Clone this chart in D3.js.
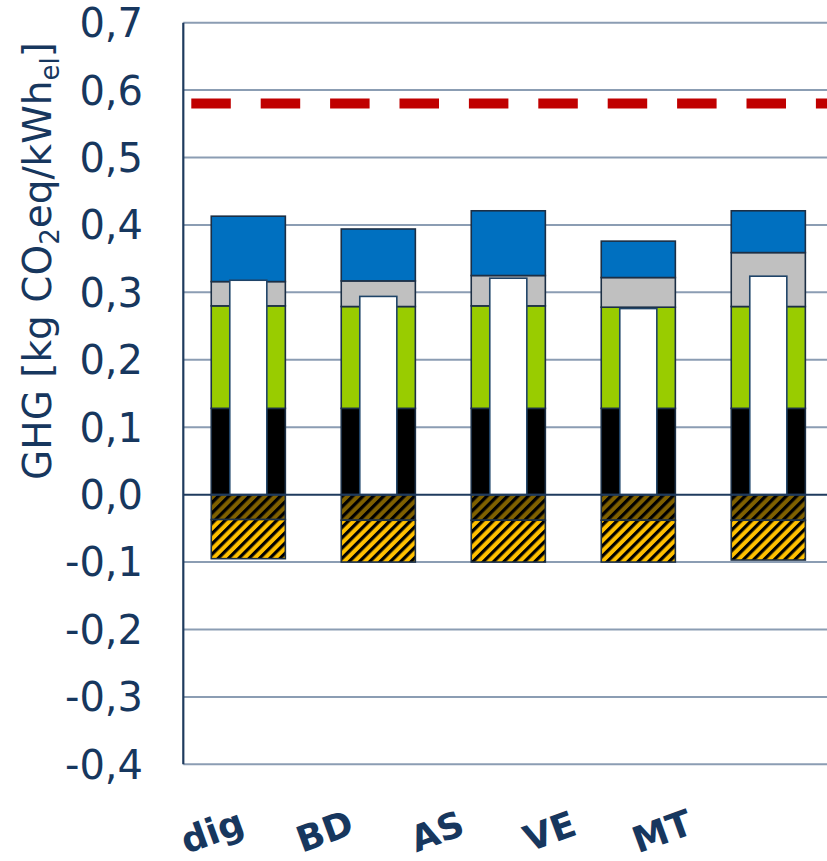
<!DOCTYPE html>
<html>
<head>
<meta charset="utf-8">
<script src="https://cdn.jsdelivr.net/npm/d3@7"></script>
<style>
  html, body { margin: 0; padding: 0; background: #ffffff; }
  svg { display: block; }
  text { font-family: "DejaVu Sans", Verdana, sans-serif; fill: #17375e; }
</style>
</head>
<body>
<svg id="chart" width="827" height="861"></svg>
<script>
// Biogas pathways (GHG balance per kWh of electricity)
const categories = ["dig", "BD", "AS", "VE", "MT"];

// Emission contributions, stacked upward from zero
const emBlack = [0.128, 0.128, 0.128, 0.128, 0.128];
const emGreen = [0.152, 0.151, 0.152, 0.150, 0.151];
const emGray  = [0.036, 0.038, 0.045, 0.044, 0.080];
const emBlue  = [0.097, 0.077, 0.096, 0.054, 0.062];

// Credits, stacked downward from zero
const creditDark   = [-0.037, -0.038, -0.038, -0.038, -0.038];
const creditYellow = [-0.058, -0.062, -0.062, -0.062, -0.059];

// Reference level for grid electricity
const referenceLine = 0.58;

const yTicks = [0.7, 0.6, 0.5, 0.4, 0.3, 0.2, 0.1, 0.0, -0.1, -0.2, -0.3, -0.4];

const W = 827, H = 861;
const margin = { left: 183.3, top: 22.7, bottom: 764.3 };
const plotRight = 833.3;

const svg = d3.select("#chart");

const x = d3.scaleBand()
  .domain(categories)
  .range([margin.left, plotRight])
  .paddingInner(0.43)
  .paddingOuter(0.215);

const y = d3.scaleLinear()
  .domain([-0.4, 0.7])
  .range([margin.bottom, margin.top]);

// category labels sit on their own evenly spaced positions
const xLabel = d3.scalePoint()
  .domain(categories)
  .range([212, 662]);

// hatch patterns for the credit segments
const defs = svg.append("defs");
function hatch(id, bg) {
  const p = defs.append("pattern")
    .attr("id", id)
    .attr("patternUnits", "userSpaceOnUse")
    .attr("width", 7.3)
    .attr("height", 7.3)
    .attr("patternTransform", "rotate(45)");
  p.append("rect").attr("width", 7.3).attr("height", 7.3).attr("fill", bg);
  p.append("rect").attr("width", 3.2).attr("height", 7.3).attr("fill", "#000000");
}
hatch("hatchDark", "#7f6000");
hatch("hatchYellow", "#ffc000");

// horizontal gridlines
svg.append("g")
  .selectAll("line")
  .data(yTicks.filter(d => d !== 0))
  .join("line")
  .attr("x1", margin.left)
  .attr("x2", W)
  .attr("y1", d => y(d))
  .attr("y2", d => y(d))
  .attr("stroke", "#8b9db3")
  .attr("stroke-width", 2);

// y tick labels
const fmt = d => d3.format(".1f")(d).replace(".", ",").replace("−", "-");
svg.append("g")
  .selectAll("text")
  .data(yTicks)
  .join("text")
  .attr("x", 143)
  .attr("y", d => y(d))
  .attr("dy", "0.36em")
  .attr("text-anchor", "end")
  .attr("font-size", 40)
  .text(d => fmt(d));

// stacked series
const layers = [
  { vals: emBlack, fill: "#000000" },
  { vals: emGreen, fill: "#99cc00" },
  { vals: emGray,  fill: "#c0c0c0" },
  { vals: emBlue,  fill: "#0070c0" }
];
const negLayers = [
  { vals: creditDark,   fill: "url(#hatchDark)" },
  { vals: creditYellow, fill: "url(#hatchYellow)" }
];

const segs = [];
categories.forEach((c, i) => {
  let base = 0;
  layers.forEach(l => {
    segs.push({ c, y0: base, y1: base + l.vals[i], fill: l.fill });
    base += l.vals[i];
  });
  let nb = 0;
  negLayers.forEach(l => {
    segs.push({ c, y0: nb, y1: nb + l.vals[i], fill: l.fill });
    nb += l.vals[i];
  });
});

svg.append("g")
  .selectAll("rect")
  .data(segs)
  .join("rect")
  .attr("x", d => x(d.c))
  .attr("width", x.bandwidth())
  .attr("y", d => y(Math.max(d.y0, d.y1)))
  .attr("height", d => Math.abs(y(d.y0) - y(d.y1)))
  .attr("fill", d => d.fill)
  .attr("stroke", "#1c2f45")
  .attr("stroke-width", 1.6);

// net result bars (emissions minus credits)
const net = categories.map((c, i) =>
  emBlack[i] + emGreen[i] + emGray[i] + emBlue[i] + creditDark[i] + creditYellow[i]);

svg.append("g")
  .selectAll("rect")
  .data(categories)
  .join("rect")
  .attr("x", c => x(c) + x.bandwidth() * 0.25)
  .attr("width", x.bandwidth() * 0.5)
  .attr("y", (c, i) => y(net[i]))
  .attr("height", (c, i) => y(0) - y(net[i]))
  .attr("fill", "#ffffff")
  .attr("stroke", "#1f4468")
  .attr("stroke-width", 1.6);

// zero line
svg.append("line")
  .attr("x1", margin.left)
  .attr("x2", W)
  .attr("y1", y(0))
  .attr("y2", y(0))
  .attr("stroke", "#1f3b5e")
  .attr("stroke-width", 2);

// y axis line
svg.append("line")
  .attr("x1", margin.left)
  .attr("x2", margin.left)
  .attr("y1", y(0.7))
  .attr("y2", y(-0.4))
  .attr("stroke", "#1f3b5e")
  .attr("stroke-width", 2.2);

// reference line
svg.append("line")
  .attr("x1", margin.left + 8)
  .attr("x2", W)
  .attr("y1", y(referenceLine))
  .attr("y2", y(referenceLine))
  .attr("stroke", "#c00000")
  .attr("stroke-width", 10)
  .attr("stroke-dasharray", "39.5 29.9");

// category labels
svg.append("g")
  .selectAll("text")
  .data(categories)
  .join("text")
  .attr("transform", c => `translate(${xLabel(c)},831) rotate(-20)`)
  .attr("dy", "0.36em")
  .attr("text-anchor", "middle")
  .attr("font-size", 36)
  .attr("font-weight", "bold")
  .text(c => c);

// y axis title
const title = svg.append("text")
  .attr("transform", `translate(51,${261}) rotate(-90)`)
  .attr("text-anchor", "middle")
  .attr("font-size", 39);
title.append("tspan").text("GHG [kg CO");
title.append("tspan").attr("font-size", 26).attr("dy", 8).text("2");
title.append("tspan").attr("dy", -8).text("eq/kWh");
title.append("tspan").attr("font-size", 26).attr("dy", 8).text("el");
title.append("tspan").attr("dy", -8).text("]");
</script>
</body>
</html>
